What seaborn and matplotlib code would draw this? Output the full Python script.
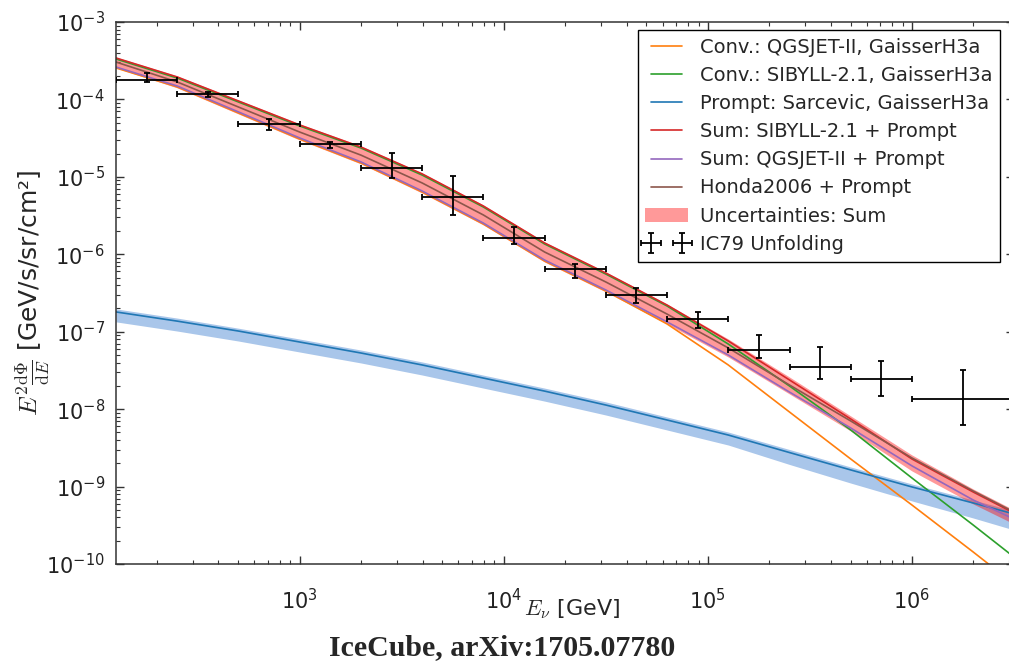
import numpy as np
import pandas as pd
import matplotlib
matplotlib.use("Agg")
import matplotlib.pyplot as plt
from matplotlib.lines import Line2D
from matplotlib.patches import Patch
import seaborn as sns

# ---------------- data ----------------
energy = [125.9, 251.2, 501.2, 1000, 1995, 3981, 7943, 15850, 31620, 63100,
          125900, 251200, 501200, 1000000, 1995000, 3162000]

conv_qgsjet = [2.55e-4, 1.45e-4, 6.68e-5, 3.08e-5, 1.51e-5, 6.37e-6, 2.46e-6, 8.18e-7,
               3.36e-7, 1.26e-7, 3.72e-8, 9.18e-9, 2.27e-9, 5.78e-10, 1.43e-10, 5.52e-11]
conv_sibyll = [3.33e-4, 1.89e-4, 9.27e-5, 4.54e-5, 2.36e-5, 1.055e-5, 4.08e-6, 1.36e-6,
               5.56e-7, 2.15e-7, 6.93e-8, 1.99e-8, 5.38e-9, 1.29e-9, 3.19e-10, 1.23e-10]
prompt = [1.80e-7, 1.37e-7, 1.02e-7, 7.36e-8, 5.31e-8, 3.72e-8, 2.52e-8, 1.71e-8,
          1.13e-8, 7.24e-9, 4.63e-9, 2.75e-9, 1.64e-9, 9.89e-10, 6.14e-10, 4.43e-10]
prompt_hi = [1.97e-7, 1.50e-7, 1.11e-7, 8.04e-8, 5.80e-8, 4.07e-8, 2.75e-8, 1.87e-8,
             1.24e-8, 7.91e-9, 5.06e-9, 3.01e-9, 1.79e-9, 1.08e-9, 6.71e-10, 4.84e-10]
prompt_lo = [1.34e-7, 1.02e-7, 7.58e-8, 5.47e-8, 3.95e-8, 2.76e-8, 1.87e-8, 1.27e-8,
             8.40e-9, 5.38e-9, 3.44e-9, 1.93e-9, 1.11e-9, 6.52e-10, 3.93e-10, 2.75e-10]
sum_sibyll = [3.43e-4, 1.95e-4, 9.55e-5, 4.68e-5, 2.43e-5, 1.093e-5, 4.20e-6, 1.40e-6,
              5.73e-7, 2.21e-7, 7.59e-8, 2.38e-8, 7.46e-9, 2.27e-9, 8.51e-10, 4.56e-10]
sum_qgsjet = [2.62e-4, 1.49e-4, 6.89e-5, 3.18e-5, 1.56e-5, 6.57e-6, 2.53e-6, 8.43e-7,
              3.46e-7, 1.34e-7, 5.00e-8, 1.66e-8, 5.71e-9, 1.85e-9, 6.71e-10, 3.81e-10]
honda_sum = [3.04e-4, 1.68e-4, 7.98e-5, 3.79e-5, 1.91e-5, 8.34e-6, 3.22e-6, 1.07e-6,
             4.39e-7, 1.69e-7, 6.17e-8, 2.05e-8, 7.03e-9, 2.34e-9, 8.77e-10, 4.70e-10]
sum_hi = [3.53e-4, 2.01e-4, 9.84e-5, 4.82e-5, 2.51e-5, 1.12e-5, 4.34e-6, 1.44e-6,
          5.90e-7, 2.28e-7, 8.05e-8, 2.60e-8, 8.17e-9, 2.56e-9, 9.31e-10, 4.99e-10]
sum_lo = [2.55e-4, 1.41e-4, 6.49e-5, 2.99e-5, 1.47e-5, 6.18e-6, 2.39e-6, 7.94e-7,
          3.26e-7, 1.26e-7, 4.71e-8, 1.57e-8, 5.22e-9, 1.59e-9, 5.96e-10, 3.29e-10]

# IC79 unfolding points
ic79_e = [178, 355, 708, 1413, 2818, 5623, 11220, 22390, 44670, 89130,
          177800, 354800, 707900, 1778000]
ic79_elo = [125.9, 251.2, 501.2, 1000, 1995, 3981, 7943, 15850, 31620, 63100,
            125900, 251200, 501200, 1000000]
ic79_ehi = [251.2, 501.2, 1000, 1995, 3981, 7943, 15850, 31620, 63100, 125900,
            251200, 501200, 1000000, 3162000]
ic79_flux = [1.78e-4, 1.17e-4, 4.82e-5, 2.66e-5, 1.30e-5, 5.49e-6, 1.62e-6, 6.45e-7,
             2.98e-7, 1.46e-7, 5.81e-8, 3.50e-8, 2.45e-8, 1.35e-8]
ic79_fhi = [2.21e-4, 1.25e-4, 5.58e-5, 2.82e-5, 2.03e-5, 1.03e-5, 2.25e-6, 7.50e-7,
            3.67e-7, 1.80e-7, 9.08e-8, 6.35e-8, 4.19e-8, 3.21e-8]
ic79_flo = [1.66e-4, 1.07e-4, 4.03e-5, 2.36e-5, 9.66e-6, 3.21e-6, 1.36e-6, 4.94e-7,
            2.35e-7, 1.12e-7, 4.58e-8, 2.45e-8, 1.48e-8, 6.24e-9]

labels = ["Conv.: QGSJET-II, GaisserH3a", "Conv.: SIBYLL-2.1, GaisserH3a",
          "Prompt: Sarcevic, GaisserH3a", "Sum: SIBYLL-2.1 + Prompt",
          "Sum: QGSJET-II + Prompt", "Honda2006 + Prompt",
          "Uncertainties: Sum", "IC79 Unfolding"]
caption = "IceCube, arXiv:1705.07780"

# ---------------- style ----------------
sns.set_theme(style="ticks")
plt.rcParams.update({
    "font.family": ["DejaVu Sans"],
    "mathtext.fontset": "cm",
    "axes.unicode_minus": False,
    "xtick.direction": "in", "ytick.direction": "in",
    "xtick.top": True, "ytick.right": True,
    "axes.edgecolor": "#333333", "axes.linewidth": 1.1,
    "xtick.color": "#333333", "ytick.color": "#333333",
    "xtick.labelcolor": "#222222", "ytick.labelcolor": "#222222",
})

fig = plt.figure(figsize=(10.09, 6.63), dpi=100)
W, H = 1009, 663
ax = fig.add_axes([116 / W, 1 - 564 / H, (1014 - 116) / W, (564 - 22) / H])
ax.set_xscale("log")
ax.set_yscale("log")

# uncertainty bands
ax.fill_between(energy, prompt_lo, prompt_hi, color="#a9c6ea", lw=0, zorder=1)
ax.fill_between(energy, sum_lo, sum_hi, color="red", alpha=0.4, lw=0, zorder=1.1)

series = [conv_qgsjet, conv_sibyll, prompt, sum_sibyll, sum_qgsjet, honda_sum]
colors = ["#ff7f0e", "#2ca02c", "#1f77b4", "#d62728", "#9467bd", "#8c564b"]
handles = []
for vals, col, lab in zip(series, colors, labels[:6]):
    df = pd.DataFrame({"E": energy, "flux": vals})
    sns.lineplot(data=df, x="E", y="flux", ax=ax, color=col, lw=1.2,
                 legend=False, zorder=2, estimator=None, sort=False)
    handles.append(Line2D([], [], color=col, lw=1.2))
handles.append(Patch(facecolor="red", alpha=0.4, lw=0))

e = np.array(ic79_e)
f = np.array(ic79_flux)
eb = ax.errorbar(e, f,
                 xerr=[e - np.array(ic79_elo), np.array(ic79_ehi) - e],
                 yerr=[f - np.array(ic79_flo), np.array(ic79_fhi) - f],
                 fmt="none", ecolor="black", elinewidth=1.3, capsize=2.5,
                 capthick=1.3, zorder=3)
handles.append(eb)

ax.set_xlim(10 ** 2.1, 10 ** 6.5)
ax.set_ylim(1e-10, 1e-3)
ax.tick_params(which="major", length=6, width=1, labelsize=15)
ax.tick_params(which="minor", length=3, width=0.8)
ax.tick_params(axis="y", which="major", pad=8)
ax.tick_params(axis="x", which="major", pad=17)

ax.set_xlabel(r"$E_\nu$ [GeV]", fontsize=16)
ax.xaxis.set_label_coords((572 - 116) / (1014 - 116), -(597 - 564) / (564 - 22))
ax.set_ylabel(r"$E^2\frac{\mathrm{d}\Phi}{\mathrm{d}E}$ [GeV/s/sr/cm²]",
              fontsize=18, labelpad=-4)

leg = ax.legend(handles, labels, loc="upper right",
                bbox_to_anchor=(1000 / W, 1 - 30 / H),
                bbox_transform=fig.transFigure, fontsize=14, numpoints=2,
                handlelength=2.2, handletextpad=0.6, labelspacing=0.47,
                borderaxespad=0, fancybox=False, framealpha=1,
                edgecolor="black", borderpad=0.4)
leg.get_frame().set_linewidth(1.0)

fig.text(502 / W, 1 - 648 / H, caption, ha="center", va="center",
         fontsize=21.5, fontweight="bold", family="Liberation Serif")

fig.savefig("out.png", dpi=100)
